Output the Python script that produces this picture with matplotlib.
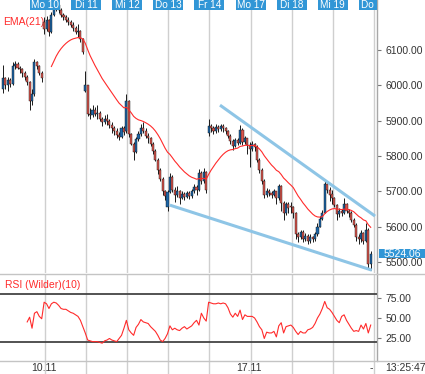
import numpy as np
import matplotlib
matplotlib.use("Agg")
import matplotlib.pyplot as plt
from matplotlib.patches import Rectangle
from matplotlib.lines import Line2D
import matplotlib.transforms as mtransforms

plt.rcParams['font.family'] = ['Liberation Sans', 'DejaVu Sans']

# ---------------- data ----------------
bars_per_day = 17
day_labels = ["Mo 10", "Di 11", "Mi 12", "Do 13", "Fr 14", "Mo 17", "Di 18", "Mi 19", "Do 20"]
date_labels = {"Mo 10": "10.11", "Mo 17": "17.11"}
time_label = "13:25:47"
last_price = 5524.06

# opening price of the first bar of each session (Fr 7 ... Mi 19)
day_open = [5990, 6180, 5985, 5870, 5655, 5865, 5832, 5660, 5692]

close = [
    # Fr 07
    6020, 6000, 6015, 6005, 6055, 6060, 6050, 6045, 6035, 6025, 6010, 5955, 5975, 6065, 6055, 6035, 6020,
    # Mo 10
    6160, 6185, 6150, 6200, 6215, 6228, 6212, 6200, 6192, 6186, 6180, 6172, 6162, 6150, 6155, 6130, 6095,
    # Di 11
    6000, 5920, 5915, 5930, 5920, 5922, 5905, 5895, 5905, 5900, 5888, 5878, 5870, 5860, 5855, 5878, 5868,
    # Mi 12
    5955, 5862, 5835, 5812, 5848, 5862, 5880, 5872, 5858, 5850, 5835, 5815, 5790, 5760, 5735, 5700, 5688,
    # Do 13
    5698, 5740, 5705, 5690, 5700, 5682, 5692, 5683, 5695, 5686, 5700, 5712, 5705, 5752, 5730, 5755, 5705,
    # Fr 14
    5885, 5878, 5870, 5882, 5876, 5885, 5878, 5870, 5858, 5842, 5828, 5845, 5838, 5875, 5840, 5850, 5832,
    # Mo 17
    5820, 5835, 5825, 5790, 5760, 5730, 5690, 5702, 5695, 5690, 5700, 5680, 5715, 5668, 5638, 5665, 5652,
    # Di 18
    5655, 5640, 5578, 5570, 5585, 5565, 5575, 5560, 5570, 5565, 5578, 5600, 5622, 5640, 5722, 5705, 5690,
    # Mi 19
    5680, 5662, 5635, 5645, 5638, 5665, 5645, 5640, 5620, 5605, 5572, 5565, 5582, 5560, 5592, 5495, 5524.06,
]
high = [
    6057, 6025, 6025, 6020, 6065, 6068, 6065, 6055, 6048, 6040, 6030, 6012, 5990, 6075, 6070, 6058, 6040,
    6192, 6195, 6188, 6208, 6225, 6238, 6232, 6218, 6205, 6198, 6192, 6185, 6178, 6168, 6175, 6158, 6135,
    6040, 6002, 5935, 5945, 5940, 5945, 5928, 5910, 5915, 5918, 5905, 5895, 5885, 5878, 5868, 5885, 5885,
    5975, 5958, 5865, 5840, 5855, 5870, 5890, 5895, 5878, 5865, 5855, 5840, 5820, 5795, 5765, 5740, 5705,
    5705, 5752, 5745, 5712, 5715, 5705, 5700, 5698, 5702, 5700, 5708, 5720, 5718, 5762, 5758, 5765, 5758,
    5905, 5892, 5885, 5890, 5888, 5892, 5890, 5882, 5875, 5862, 5848, 5852, 5850, 5888, 5878, 5858, 5852,
    5840, 5842, 5838, 5830, 5795, 5765, 5735, 5710, 5708, 5700, 5708, 5702, 5722, 5718, 5672, 5670, 5670,
    5670, 5660, 5642, 5585, 5592, 5590, 5582, 5580, 5578, 5575, 5585, 5610, 5630, 5648, 5735, 5728, 5712,
    5705, 5685, 5665, 5652, 5650, 5680, 5668, 5650, 5645, 5625, 5610, 5580, 5590, 5585, 5610, 5595, 5530,
]
low = [
    5978, 5990, 5985, 5995, 6000, 6045, 6045, 6035, 6025, 6015, 6000, 5930, 5945, 5970, 6045, 6028, 6010,
    6145, 6155, 6140, 6148, 6195, 6210, 6205, 6192, 6185, 6178, 6172, 6165, 6155, 6145, 6138, 6122, 6088,
    5980, 5912, 5905, 5910, 5912, 5905, 5898, 5885, 5890, 5888, 5880, 5865, 5860, 5850, 5845, 5850, 5860,
    5865, 5855, 5830, 5790, 5808, 5842, 5858, 5865, 5850, 5838, 5828, 5805, 5785, 5750, 5730, 5690, 5675,
    5645, 5695, 5698, 5670, 5685, 5665, 5678, 5675, 5680, 5678, 5682, 5695, 5690, 5700, 5722, 5725, 5695,
    5858, 5868, 5862, 5866, 5868, 5872, 5868, 5862, 5852, 5835, 5818, 5825, 5830, 5835, 5832, 5835, 5805,
    5770, 5815, 5815, 5782, 5752, 5722, 5682, 5685, 5688, 5682, 5688, 5665, 5675, 5645, 5620, 5632, 5640,
    5640, 5625, 5565, 5558, 5565, 5558, 5560, 5550, 5555, 5556, 5560, 5575, 5598, 5618, 5638, 5695, 5672,
    5665, 5655, 5620, 5628, 5630, 5635, 5640, 5628, 5612, 5598, 5560, 5552, 5558, 5550, 5558, 5480, 5478,
]

# RSI (Wilder, 10), first value at bar 10
rsi_first_bar = 10
rsi = [
    45, 51, 37, 56, 58, 52, 49,
    70, 68, 62, 68, 70, 69, 66, 62, 61, 61, 59, 57, 56, 54, 52, 47, 39,
    31, 22, 21, 20, 20, 20, 19, 18, 21, 22, 24, 22, 21, 20, 24, 28, 37,
    47, 35, 31, 28, 38, 42, 48, 45, 44, 43, 39, 36, 33, 28, 22, 20, 24,
    30, 40, 35, 37, 35, 34, 37, 39, 36, 38, 40, 44, 47, 41, 56, 50, 46,
    70, 69, 68, 68, 69, 68, 69, 68, 63, 55, 51, 56, 52, 60, 48, 54, 52,
    52, 52, 50, 45, 39, 35, 24, 32, 31, 31, 33, 26, 40, 44, 31, 39, 40,
    41, 38, 33, 29, 33, 31, 31, 35, 36, 38, 43, 50, 55, 62, 71, 63, 61,
    57, 52, 47, 44, 52, 54, 47, 42, 37, 33, 34, 33, 41, 36, 43, 31, 41,
]
rsi_levels = [20, 80]

# drawn trend lines (bar index, price)
upper_trend = ([89.7, 153.8], [5944, 5630])
lower_trend = ([69.0, 152.5], [5661, 5477])

ema_period = 21

# ---------------- derived ----------------
close = np.array(close, float)
high = np.array(high, float)
low = np.array(low, float)
n = len(close)
opens = np.empty(n)
opens[1:] = close[:-1]
for d, o in enumerate(day_open):
    opens[d * bars_per_day] = o

alpha = 2.0 / (ema_period + 1)
ema = np.full(n, np.nan)
ema[ema_period - 1] = close[:ema_period].mean()
for i in range(ema_period, n):
    ema[i] = alpha * close[i] + (1 - alpha) * ema[i - 1]

# ---------------- style ----------------
W, H = 425, 374
BLUE = '#1c65a6'
RED = '#d9544c'
LINE_RED = '#ff2b2b'
GRID = '#cfcfcf'
TXT = '#333333'
TREND = '#8ec5e6'
TAG = '#3196d6'

fig = plt.figure(figsize=(W / 100, H / 100), dpi=100)
fig.patch.set_facecolor('white')

ax_w = 377 / W
main_top, main_bot = 0, 273
rsi_top, rsi_bot = 274, 361
ax = fig.add_axes([0, (H - main_bot) / H, ax_w, (main_bot - main_top) / H])
ax2 = fig.add_axes([0, (H - rsi_bot) / H, ax_w, (rsi_bot - rsi_top) / H], sharex=ax)
ax3 = fig.add_axes([0, 0, ax_w, (H - rsi_bot) / H], sharex=ax)

xmin, xmax = -1.24, 154.6
ax.set_xlim(xmin, xmax)
ax.set_ylim(5469, 6241.5)
ax2.set_ylim(-4.6, 105.8)
ax3.set_ylim(0, 1)

grid_x = [bars_per_day * (d + 1) + 0.36 for d in range(len(day_labels))]

for a in (ax, ax2, ax3):
    a.set_facecolor('white')
    for s in ('left', 'top', 'bottom'):
        a.spines[s].set_visible(False)
    a.spines['right'].set_color('#a8a8a8')
    a.spines['right'].set_linewidth(1.0)
    a.tick_params(axis='x', bottom=False, labelbottom=False)
    for g in grid_x:
        a.axvline(g, color=GRID, lw=1.0, zorder=0)

ax3.tick_params(axis='y', left=False, labelleft=False, right=False)
ax3.spines['right'].set_visible(False)

# candles
x = np.arange(n)
up = close >= opens
body_bottom = np.minimum(opens, close)
body_h = np.maximum(np.abs(close - opens), 1.5)
ax.vlines(x, low, high, color='#1a1a1a', lw=0.7, zorder=3)
ax.bar(x, body_h, bottom=body_bottom, width=0.86,
       color=np.where(up, BLUE, RED), edgecolor='#111111', linewidth=0.3, zorder=4)

# EMA
ax.plot(x, ema, color=LINE_RED, lw=0.8, zorder=5)

# trend lines
ax.plot(*upper_trend, color=TREND, lw=2.2, solid_capstyle='butt', zorder=6)
ax.plot(*lower_trend, color=TREND, lw=2.2, solid_capstyle='butt', zorder=6)

# y axis main
ax.yaxis.tick_right()
yt = np.arange(5500, 6101, 100)
ax.set_yticks(yt)
ax.set_yticklabels([f"{v:.2f}" for v in yt])
ax.tick_params(axis='y', length=3, width=0.8, color='#777777', labelsize=7.5,
               labelcolor=TXT, pad=3, left=False)

ax.text(3 / 377, 1 - 17 / 273, "EMA(21)", transform=ax.transAxes, color=LINE_RED,
        fontsize=7.5, ha='left', va='top')

# day label boxes at the top
bt = mtransforms.blended_transform_factory(ax.transData, ax.transAxes)
box_w = 30 / 2.419
box_h = 9.5 / 273
for g, lab in zip(grid_x, day_labels):
    r = Rectangle((g - box_w / 2, 1 - box_h), box_w, box_h, transform=bt,
                  facecolor=TAG, edgecolor='none', zorder=8, clip_on=True)
    ax.add_patch(r)
    ax.text(g, 1 - box_h / 2 - 0.3 / 273, lab, transform=bt, color='white', fontsize=7.2,
            ha='center', va='center', zorder=9, clip_on=True)

# last price tag
tt = mtransforms.blended_transform_factory(ax.transAxes, ax.transData)
tag_half = 4.6 * 2.83
ax.add_patch(Rectangle((379 / 377, last_price - tag_half), 47 / 377, 2 * tag_half,
                       transform=tt, facecolor=TAG, edgecolor='none', clip_on=False, zorder=10))
ax.text((379 + 23.5) / 377, last_price, f"{last_price:.2f}", transform=tt, color='white',
        fontsize=7.5, ha='center', va='center', clip_on=False, zorder=11)

# RSI panel
rx = np.arange(rsi_first_bar, rsi_first_bar + len(rsi))
ax2.plot(rx, rsi, color=LINE_RED, lw=0.8, zorder=4)
for lv in rsi_levels:
    ax2.axhline(lv, color='#444444', lw=1.3, zorder=3)
ax2.yaxis.tick_right()
ax2.set_yticks([25, 50, 75])
ax2.set_yticklabels(["25.00", "50.00", "75.00"])
ax2.tick_params(axis='y', length=3, width=0.8, color='#777777', labelsize=7.5,
                labelcolor=TXT, pad=3, left=False)
ax2.text(5 / 377, 1 - 6 / 87, "RSI (Wilder)(10)", transform=ax2.transAxes, color=LINE_RED,
         fontsize=7.5, ha='left', va='top')

# bottom strip labels
for g, lab in zip(grid_x, day_labels):
    if lab in date_labels:
        ax3.text(g - 0.6, 0.45, date_labels[lab], color=TXT, fontsize=7.5, ha='center', va='center')
ax3.text(grid_x[-1] - 0.3, 0.45, "-", color=TXT, fontsize=7.5, ha='right', va='center')
fig.text(405 / W, 0.45 * (H - rsi_bot) / H, time_label, color=TXT, fontsize=7.5,
         ha='center', va='center')

# panel separators
for yy in (rsi_top, rsi_bot):
    fig.add_artist(Line2D([0, 1], [(H - yy) / H] * 2, transform=fig.transFigure,
                          color='#c4c4c4', lw=1.0))

fig.savefig("out.png", dpi=100, facecolor='white')
